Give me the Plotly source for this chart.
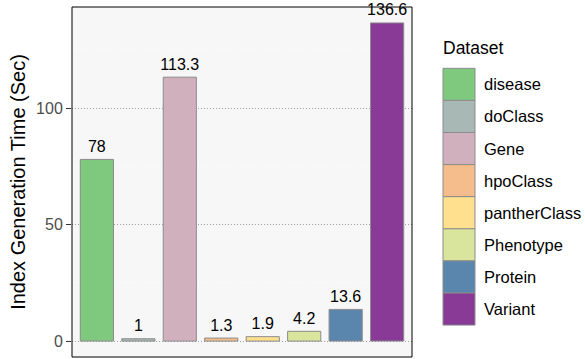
import plotly.graph_objects as go

# Index generation time per dataset
datasets = ["disease", "doClass", "Gene", "hpoClass", "pantherClass",
            "Phenotype", "Protein", "Variant"]
times_sec = [78, 1, 113.3, 1.3, 1.9, 4.2, 13.6, 136.6]
colors = ["#7FC97F", "#A8B8B5", "#D1B0BE", "#F5BD8C", "#FEE08F",
          "#D9E49D", "#5A85AC", "#883A96"]
y_ticks = [0, 50, 100]
y_minor = [25, 75, 125]

W, H = 585, 359
L, R, T, B = 72, 412, 7, 357  # plot area in pixels
FONT = "Liberation Sans, Arial, Helvetica, sans-serif"

ymax = max(times_sec)
pad = 0.05 * ymax

fig = go.Figure()
fig.add_trace(go.Bar(
    x=datasets,
    y=times_sec,
    width=0.8,
    marker=dict(color=colors, line=dict(color="#8C8C8C", width=1)),
    showlegend=False,
))
# value labels just above each bar (invisible marker gives a small gap)
fig.add_trace(go.Scatter(
    x=datasets,
    y=times_sec,
    mode="markers+text",
    marker=dict(size=4, color="rgba(0,0,0,0)"),
    text=[f"{v:g}" for v in times_sec],
    textposition="top center",
    textfont=dict(family=FONT, size=16, color="black"),
    cliponaxis=False,
    showlegend=False,
    hoverinfo="skip",
))


def px_x(x):
    return (x - L) / (R - L)


def px_y(y):
    return (B - y) / (B - T)


shapes = [dict(type="rect", xref="paper", yref="paper", x0=0, x1=1, y0=0, y1=1,
               line=dict(color="black", width=1), fillcolor="rgba(0,0,0,0)",
               layer="above")]
annotations = [dict(text="Dataset", xref="paper", yref="paper",
                    x=px_x(441), y=px_y(48), xanchor="left", yanchor="middle",
                    showarrow=False, font=dict(family=FONT, size=17.5, color="black"))]

key_top, key_h, key_x0, key_x1 = 68.3, 32.1, 443, 475
for i, (name, col) in enumerate(zip(datasets, colors)):
    y0 = key_top + i * key_h
    y1 = y0 + key_h
    shapes.append(dict(type="rect", xref="paper", yref="paper",
                       x0=px_x(key_x0), x1=px_x(key_x1), y0=px_y(y1), y1=px_y(y0),
                       fillcolor=col, line=dict(color="#8C8C8C", width=1)))
    annotations.append(dict(text=name, xref="paper", yref="paper",
                            x=px_x(482), y=px_y((y0 + y1) / 2),
                            xanchor="left", yanchor="middle", showarrow=False,
                            font=dict(family=FONT, size=16.5, color="black")))

fig.update_layout(
    width=W, height=H,
    margin=dict(l=L, r=W - R, t=T, b=H - B, pad=0),
    paper_bgcolor="white",
    plot_bgcolor="#F7F7F7",
    font=dict(family=FONT),
    bargap=0.2,
    shapes=shapes,
    annotations=annotations,
    xaxis=dict(range=[-0.6, len(datasets) - 0.4], showticklabels=False,
               ticks="", showgrid=False, zeroline=False, showline=False,
               fixedrange=True),
    yaxis=dict(range=[-pad, ymax + pad], tickvals=y_ticks,
               ticks="outside", ticklen=5, tickwidth=1, tickcolor="#333333",
               tickfont=dict(family=FONT, size=16, color="#4D4D4D"),
               showgrid=True, gridcolor="#A0A0A0", gridwidth=1, griddash="1px,2px",
               minor=dict(tickvals=y_minor, showgrid=True, gridcolor="white",
                          gridwidth=1, ticks=""),
               zeroline=False, showline=False,
               title=dict(text="Index Generation Time (Sec)", standoff=5,
                          font=dict(family=FONT, size=20, color="black"))),
)

fig.write_html("out.html")
